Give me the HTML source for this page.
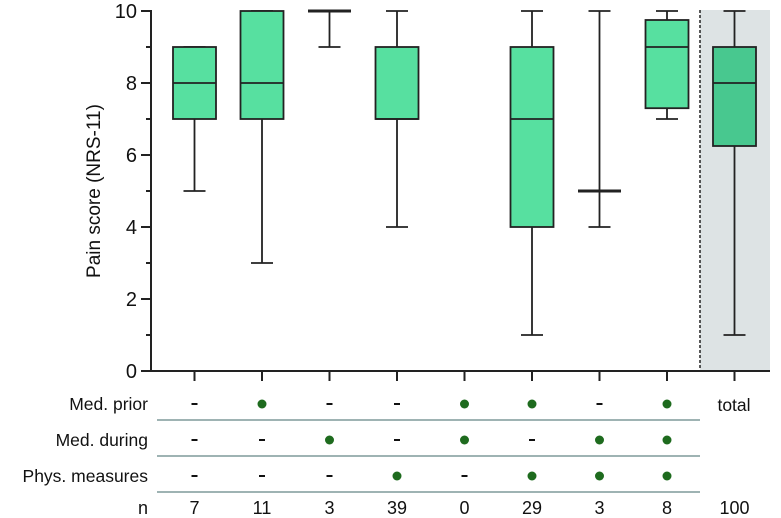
<!DOCTYPE html>
<html><head><meta charset="utf-8"><style>
body{margin:0;background:#fff}
svg{display:block;font-family:"Liberation Sans",Arial,sans-serif}
</style></head><body>
<svg id="c" width="781" height="518"></svg>
<script>
const categories=["g1","g2","g3","g4","g5","g6","g7","g8","total"];
const whiskLow=[5,3,9,4,null,1,4,7,1];
const q1=[7,7,10,7,null,4,5,7.3,6.25];
const medians=[8,8,10,7,null,7,5,9,8];
const q3=[9,10,10,9,null,9,5,9.75,9];
const whiskHigh=[9,10,10,10,null,10,10,10,10];
const medPrior=[0,1,0,0,1,1,0,1];
const medDuring=[0,0,1,0,1,0,1,1];
const physMeasures=[0,0,0,1,0,1,1,1];
const nValues=["7","11","3","39","0","29","3","8","100"];
const yTicks=[0,2,4,6,8,10];

const NS="http://www.w3.org/2000/svg";
const svg=document.getElementById('c');
function el(t,a,txt){const e=document.createElementNS(NS,t);for(const k in a)e.setAttribute(k,a[k]);if(txt!=null)e.textContent=txt;svg.appendChild(e);return e;}
const y=v=>371-v*36;
const x=i=>194.5+i*67.5;
const bw=43;

let e=el('rect',{x:700,y:10,width:70,height:361,fill:'#dde3e4'});


e=el('line',{x1:700,y1:10,x2:700,y2:371,stroke:'#222','stroke-width':1.5,'stroke-dasharray':'3,2'});



e=el('line',{x1:151,y1:10,x2:151,y2:372,stroke:'#222','stroke-width':2});


e=el('line',{x1:150,y1:371,x2:770,y2:371,stroke:'#222','stroke-width':2});


for(let v=0;v<=10;v++){el('line',{x1:v%2?146:141,y1:y(v),x2:151,y2:y(v),stroke:'#222','stroke-width':2});}
yTicks.forEach(v=>{
  const t=el('text',{x:137,y:y(v)+7,'text-anchor':'end','font-size':20,fill:'#111'},String(v));
  
  
});
e=el('text',{x:0,y:0,transform:'translate(100,191) rotate(-90)','text-anchor':'middle','font-size':19,fill:'#111'},'Pain score (NRS-11)');



categories.forEach((c,i)=>{
  const cx=x(i);
  el('line',{x1:cx,y1:371,x2:cx,y2:381,stroke:'#222','stroke-width':2});
  if(medians[i]==null)return;
  const fill=i===8?'#48c88f':'#57e0a0';
  el('line',{x1:cx,y1:y(whiskHigh[i]),x2:cx,y2:y(whiskLow[i]),stroke:'#222','stroke-width':1.8});
  el('line',{x1:cx-11,y1:y(whiskHigh[i]),x2:cx+11,y2:y(whiskHigh[i]),stroke:'#222','stroke-width':1.8});
  el('line',{x1:cx-11,y1:y(whiskLow[i]),x2:cx+11,y2:y(whiskLow[i]),stroke:'#222','stroke-width':1.8});
  const b=el('rect',{x:cx-bw/2,y:y(q3[i]),width:bw,height:Math.max(0,y(q1[i])-y(q3[i])),fill:fill,stroke:'#222','stroke-width':1.8});
  
  
  el('line',{x1:cx-bw/2,y1:y(medians[i]),x2:cx+bw/2,y2:y(medians[i]),stroke:'#222','stroke-width':q1[i]===q3[i]?3:1.8});
});

const rows=[["Med. prior",medPrior,404],["Med. during",medDuring,440],["Phys. measures",physMeasures,476]];
rows.forEach(([lab,arr,ry],r)=>{
  const t=el('text',{x:148,y:ry+6,'text-anchor':'end','font-size':17.5,fill:'#111'},lab);
  
  
  arr.forEach((v,i)=>{
    if(v){el('circle',{cx:x(i),cy:ry,r:4.5,fill:'#1e6b1e'});}
    else el('rect',{x:x(i)-3,y:ry-1,width:6,height:2,fill:'#111'});
  });
  el('line',{x1:157,y1:ry+16,x2:700,y2:ry+16,stroke:'#7e9a9a','stroke-width':1.5});
});
e=el('text',{x:734,y:411,'text-anchor':'middle','font-size':17.5,fill:'#111'},'total');


e=el('text',{x:148,y:514,'text-anchor':'end','font-size':18,fill:'#111'},'n');


nValues.forEach((n,i)=>{
  const t=el('text',{x:x(i),y:514,'text-anchor':'middle','font-size':18,fill:'#111'},n);
  
  
});
</script>
</body></html>
